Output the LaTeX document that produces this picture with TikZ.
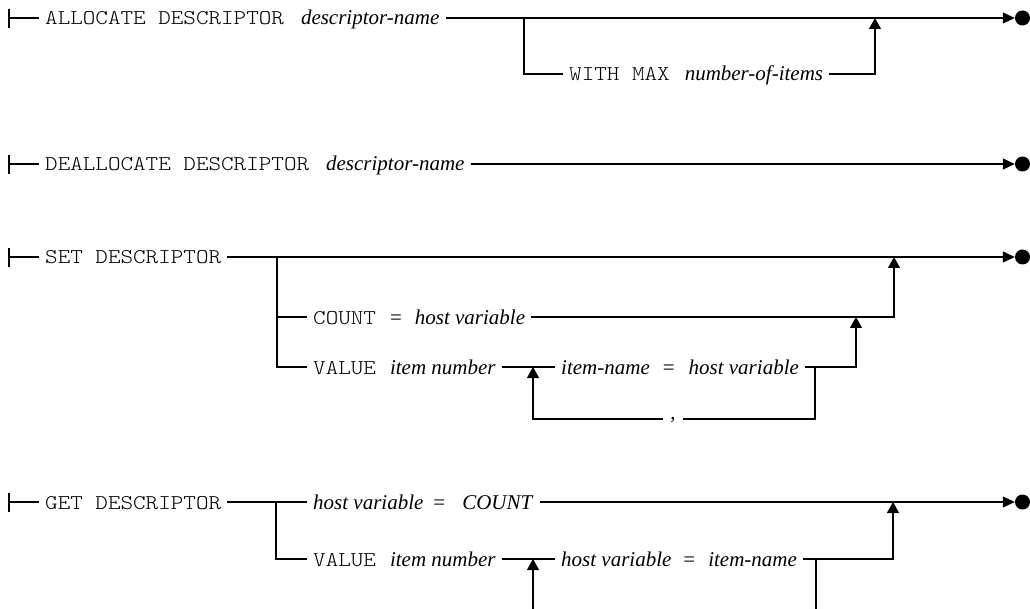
\documentclass[tikz,border=0pt]{standalone}
\usepackage{fontspec}
\setmainfont{Liberation Serif}
\newfontfamily\monofnt{Latin Modern Mono Light}[FakeStretch=1.14]
\usetikzlibrary{arrows.meta}
\begin{document}
\begin{tikzpicture}[x=1pt,y=-1pt,
  rail/.style={draw=black,line width=1.1pt},
  upr/.style={rail,-{Triangle[length=11pt,width=12pt]}},
  endr/.style={rail,-{Triangle[length=12pt,width=11pt]}},
  lbl/.style={anchor=west,inner xsep=6pt,inner ysep=0pt,text height=16pt,text depth=2pt,font=\fontsize{21}{25}\selectfont},
  sep/.style={anchor=base,inner xsep=7pt,inner ysep=0pt,font=\fontsize{21}{25}\selectfont},
  dotend/.style={circle,fill=black,inner sep=0pt,minimum size=15pt}]
\useasboundingbox (0,0) rectangle (1030,609);

% ---------- ALLOCATE ----------
\coordinate (s1) at (9,18);
\coordinate (s1t) at (9,9);
\coordinate (s1b) at (9,28);
\draw[rail] (s1t) -- (s1b);
\node[lbl] (a1) at (39,18) {{\monofnt ALLOCATE DESCRIPTOR}\hspace{17pt}\textit{descriptor-name}};
\draw[rail] (s1) -- (a1.west);
\node[dotend] (e1) at (1022.5,18) {};
\draw[endr] (a1.east) -- (e1.west);
\coordinate (j1) at (524,18);
\node[lbl] (w1) at (563,74) {{\monofnt WITH MAX}\hspace{15pt}\textit{number-of-items}};
\coordinate (m1) at (875,18);
\draw[rail] (j1) |- (w1.west);
\draw[upr] (w1.east) -| (m1);

% ---------- DEALLOCATE ----------
\coordinate (s2) at (9,164);
\coordinate (s2t) at (9,155);
\coordinate (s2b) at (9,174);
\draw[rail] (s2t) -- (s2b);
\node[lbl] (d2) at (39,164) {{\monofnt DEALLOCATE DESCRIPTOR}\hspace{17pt}\textit{descriptor-name}};
\draw[rail] (s2) -- (d2.west);
\node[dotend] (e2) at (1022.5,164) {};
\draw[endr] (d2.east) -- (e2.west);

% ---------- SET ----------
\coordinate (s3) at (9,257);
\coordinate (s3t) at (9,248);
\coordinate (s3b) at (9,267);
\draw[rail] (s3t) -- (s3b);
\node[lbl] (t3) at (39,257) {\monofnt SET DESCRIPTOR};
\draw[rail] (s3) -- (t3.west);
\node[dotend] (e3) at (1022.5,257) {};
\draw[endr] (t3.east) -- (e3.west);
\coordinate (j3) at (277,257);
\node[lbl] (n3) at (307,317) {{\monofnt COUNT}\hspace{14pt}=\hspace{13pt}\textit{host variable}};
\node[lbl] (v3) at (307,367) {{\monofnt VALUE}\hspace{14pt}\textit{item number}};
\node[lbl] (i3) at (555,367) {\textit{item-name}\hspace{13pt}=\hspace{14pt}\textit{host variable}};
\draw[rail] (j3) |- (n3.west);
\draw[rail] (j3) |- (v3.west);
\draw[rail] (v3.east) -- (i3.west);
\coordinate (m3a) at (894,257);
\coordinate (m3b) at (856,317);
\draw[upr] (n3.east) -| (m3a);
\draw[upr] (i3.east) -| (m3b);
\coordinate (l3a) at (815,367);
\coordinate (l3b) at (815,419);
\coordinate (l3d) at (533,367);
\node[sep] (c3) at (673,419) {,};
\draw[rail] (l3a) |- (c3.east |- l3b);
\draw[upr] (c3.west |- l3b) -| (l3d);

% ---------- GET ----------
\coordinate (s4) at (9,502);
\coordinate (s4t) at (9,493);
\coordinate (s4b) at (9,512);
\draw[rail] (s4t) -- (s4b);
\node[lbl] (g4) at (39,502) {\monofnt GET DESCRIPTOR};
\draw[rail] (s4) -- (g4.west);
\node[lbl] (h4) at (307,502) {\textit{host variable}\hspace{10pt}=\hspace{17pt}\textit{COUNT}};
\draw[rail] (g4.east) -- (h4.west);
\node[dotend] (e4) at (1022.5,502) {};
\draw[endr] (h4.east) -- (e4.west);
\coordinate (j4) at (276,502);
\node[lbl] (v4) at (307,559) {{\monofnt VALUE}\hspace{14pt}\textit{item number}};
\draw[rail] (j4) |- (v4.west);
\node[lbl] (i4) at (555,559) {\textit{host variable}\hspace{12pt}=\hspace{13pt}\textit{item-name}};
\draw[rail] (v4.east) -- (i4.west);
\coordinate (m4) at (893,502);
\draw[upr] (i4.east) -| (m4);
\coordinate (b4a) at (816,559);
\coordinate (b4b) at (816,614);
\draw[rail] (b4a) -- (b4b);
\coordinate (b4c) at (533,614);
\coordinate (b4d) at (533,559);
\draw[upr] (b4c) -- (b4d);
\end{tikzpicture}
\end{document}
